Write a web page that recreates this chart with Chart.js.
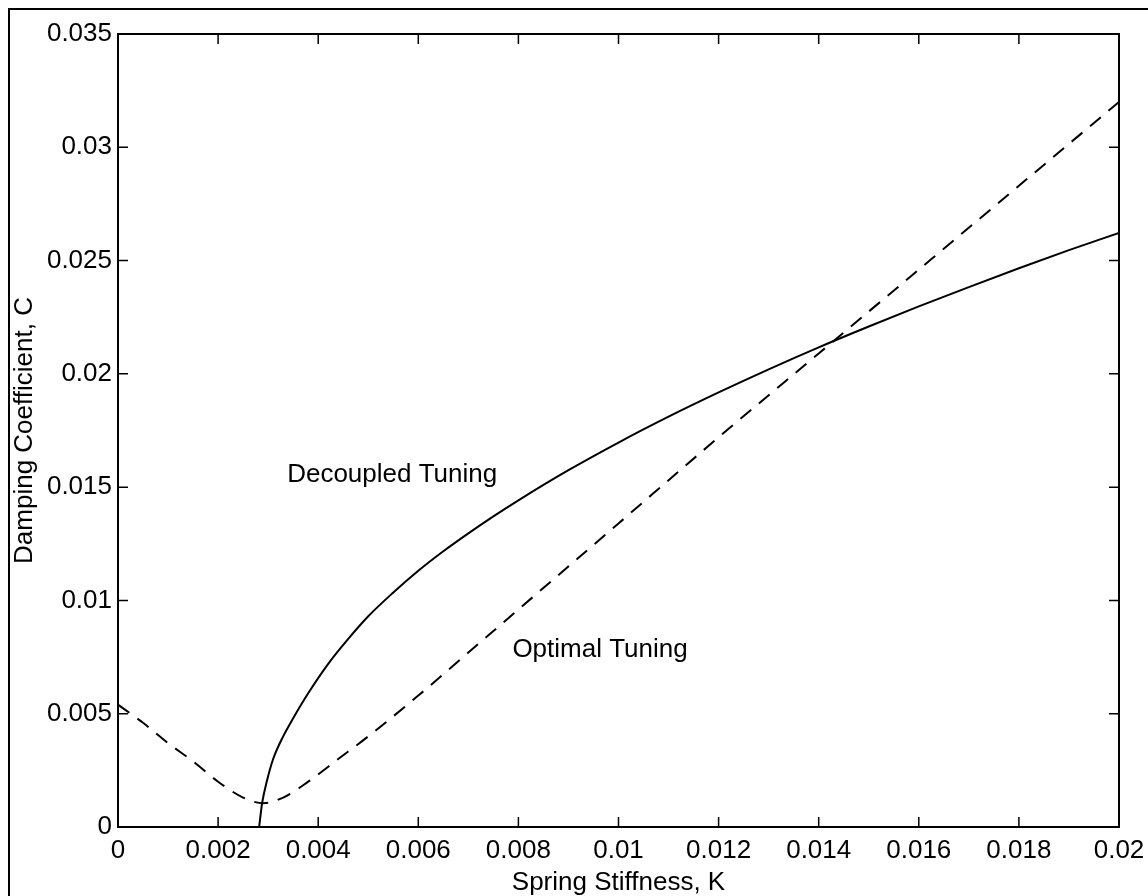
<!DOCTYPE html>
<html>
<head>
<meta charset="utf-8">
<title>Damping Coefficient vs Spring Stiffness</title>
<script src="https://cdn.jsdelivr.net/npm/chart.js@4.4.1/dist/chart.umd.min.js"></script>
<style>
  html, body { margin: 0; padding: 0; background: #fff; overflow: hidden; }
  #wrap { width: 1148px; height: 896px; position: relative; }
</style>
</head>
<body>
<div id="wrap"><canvas id="chart" width="1148" height="896"></canvas></div>
<script>
/* DATA */
const decoupledK = [0.00282, 0.00288, 0.00298, 0.0031, 0.0033, 0.0035, 0.0038, 0.0042, 0.0046, 0.005,
  0.0055, 0.006, 0.0065, 0.007, 0.0075, 0.008, 0.009, 0.010, 0.011, 0.012, 0.013, 0.014, 0.015, 0.016, 0.017, 0.018, 0.019, 0.020];
const decoupledC = [0, 0.00106, 0.00207, 0.0030, 0.0040, 0.0048, 0.0059, 0.0072, 0.0083, 0.0093,
  0.01035, 0.01131, 0.01217, 0.01296, 0.01371, 0.01442, 0.01575, 0.01697, 0.01811, 0.01918, 0.0202, 0.02117, 0.02209, 0.02298, 0.02383, 0.02466, 0.02546, 0.02622];

const optimalK = [0, 0.0005, 0.001, 0.0015, 0.002, 0.0025, 0.0029, 0.0033, 0.0038, 0.0044, 0.005,
  0.006, 0.007, 0.008, 0.010, 0.012, 0.014, 0.016, 0.018, 0.020];
const optimalC = [0.0054, 0.0046, 0.0037, 0.0029, 0.0020, 0.0013, 0.00105, 0.0013, 0.0020, 0.0030, 0.0040,
  0.0058, 0.0077, 0.0096, 0.0134, 0.0172, 0.0209, 0.0246, 0.0283, 0.0320];

const xTicks = [0, 0.002, 0.004, 0.006, 0.008, 0.01, 0.012, 0.014, 0.016, 0.018, 0.02];
const yTicks = [0, 0.005, 0.01, 0.015, 0.02, 0.025, 0.03, 0.035];

const labels = ['Decoupled Tuning', 'Optimal Tuning'];
const labelK = [0.00338, 0.00788];
const labelC = [0.01556, 0.00781];

const FONT = "'Liberation Sans', Arial, Helvetica, sans-serif";

const pts = (xs, ys) => xs.map((x, i) => ({ x, y: ys[i] }));
const fmt = v => String(parseFloat(Number(v).toFixed(4)));

/* MATLAB-LIKE BOX, INWARD TICKS, TEXT LABELS */
const boxPlugin = {
  id: 'box',
  afterDraw(chart) {
    const { ctx, chartArea: a, scales } = chart;
    ctx.save();
    ctx.strokeStyle = '#000';
    ctx.lineWidth = 2;
    // outer figure frame
    ctx.strokeRect(9, 9, 1200, 1000);
    // axes box
    ctx.strokeRect(a.left, a.top, a.right - a.left, a.bottom - a.top);
    ctx.lineWidth = 1.5;
    ctx.beginPath();
    xTicks.forEach(v => {
      const x = scales.x.getPixelForValue(v);
      ctx.moveTo(x, a.bottom); ctx.lineTo(x, a.bottom - 10);
      ctx.moveTo(x, a.top); ctx.lineTo(x, a.top + 10);
    });
    yTicks.forEach(v => {
      const y = scales.y.getPixelForValue(v);
      ctx.moveTo(a.left, y); ctx.lineTo(a.left + 10, y);
      ctx.moveTo(a.right, y); ctx.lineTo(a.right - 10, y);
    });
    ctx.stroke();
    // curve labels
    ctx.fillStyle = '#000';
    ctx.font = '26px ' + FONT;
    ctx.textAlign = 'left';
    ctx.textBaseline = 'middle';
    labels.forEach((t, i) => {
      ctx.fillText(t, scales.x.getPixelForValue(labelK[i]), scales.y.getPixelForValue(labelC[i]));
    });
    ctx.restore();
  }
};

new Chart(document.getElementById('chart'), {
  type: 'scatter',
  data: {
    datasets: [
      { label: 'Decoupled Tuning', data: pts(decoupledK, decoupledC), showLine: true,
        borderColor: '#000', borderWidth: 2, pointRadius: 0, cubicInterpolationMode: 'monotone' },
      { label: 'Optimal Tuning', data: pts(optimalK, optimalC), showLine: true,
        borderColor: '#000', borderWidth: 2, borderDash: [14, 10], pointRadius: 0, cubicInterpolationMode: 'monotone' }
    ]
  },
  options: {
    responsive: false, animation: false,
    layout: { padding: { top: 34, right: 29, left: 0, bottom: 0 } },
    plugins: { legend: { display: false }, tooltip: { enabled: false } },
    scales: {
      x: {
        type: 'linear', min: 0, max: 0.02,
        afterBuildTicks: s => { s.ticks = xTicks.map(v => ({ value: v })); },
        afterFit: s => { s.height = 69; s.paddingLeft = 0; s.paddingRight = 0; },
        grid: { display: false, drawTicks: false },
        border: { display: false },
        ticks: { color: '#000', padding: 11, font: { family: FONT, size: 26, lineHeight: 1 }, callback: fmt, maxRotation: 0, autoSkip: false },
        title: { display: true, text: 'Spring Stiffness, K', color: '#000', padding: { top: 0, bottom: 0 }, font: { family: FONT, size: 26, lineHeight: 1 } }
      },
      y: {
        type: 'linear', min: 0, max: 0.035,
        afterBuildTicks: s => { s.ticks = yTicks.map(v => ({ value: v })); },
        afterFit: s => { s.width = 118; s.paddingTop = 0; s.paddingBottom = 0; },
        grid: { display: false, drawTicks: false },
        border: { display: false },
        ticks: { color: '#000', padding: 6, font: { family: FONT, size: 26, lineHeight: 1 }, callback: fmt, autoSkip: false },
        title: { display: true, text: 'Damping Coefficient, C', color: '#000', padding: { top: 12, bottom: 0 }, font: { family: FONT, size: 26, lineHeight: 1 } }
      }
    }
  },
  plugins: [boxPlugin]
});
</script>
</body>
</html>
